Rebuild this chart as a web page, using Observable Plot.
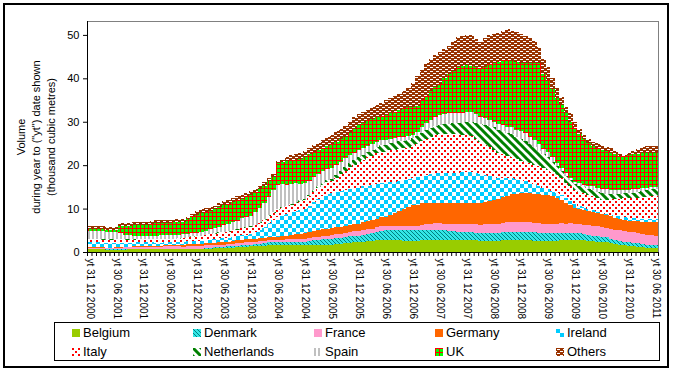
<!DOCTYPE html>
<html><head><meta charset="utf-8">
<script src="https://cdn.jsdelivr.net/npm/d3@7"></script>
<script src="https://cdn.jsdelivr.net/npm/@observablehq/plot@0.6"></script>
<style>
body{margin:0;background:#fff;}
#wrap{position:relative;width:673px;height:371px;font-family:"Liberation Sans",Arial,sans-serif;overflow:hidden;background:#fff;}
#border{position:absolute;left:3px;top:3px;width:662px;height:361px;border:2px solid #000;}
#chart{position:absolute;left:0;top:0;}
#legend{position:absolute;left:54px;top:322px;border:1px solid #000;
  display:grid;grid-template-columns:repeat(5,121px);grid-auto-rows:19px;padding-left:17px;box-sizing:border-box;width:606px;height:39px;}
.item{display:flex;align-items:center;font-size:13px;white-space:nowrap;color:#000;}
.item svg{margin-right:3px;flex:none;}
</style></head>
<body>
<svg width="0" height="0" style="position:absolute">
<defs>
<pattern id="pDen" patternUnits="userSpaceOnUse" width="4" height="4">
  <rect width="4" height="4" fill="#33e6e6"/>
  <path d="M-1,-1 L5,5 M-1,3 L1,5 M3,-1 L5,1" stroke="#008080" stroke-width="1"/>
</pattern>
<pattern id="pIre" patternUnits="userSpaceOnUse" width="8" height="8">
  <rect width="8" height="8" fill="#fff"/>
  <rect width="4" height="4" fill="#00ccff"/>
  <rect x="4" y="4" width="4" height="4" fill="#00ccff"/>
</pattern>
<pattern id="pIta" patternUnits="userSpaceOnUse" width="6" height="6">
  <rect width="6" height="6" fill="#fff"/>
  <rect width="2" height="2" fill="#ff0000"/>
  <rect x="3" y="3" width="2" height="2" fill="#ff0000"/>
</pattern>
<pattern id="pNL" patternUnits="userSpaceOnUse" width="8" height="8">
  <rect width="8" height="8" fill="#fff"/>
  <path d="M-2,-2 L10,10 M-2,6 L2,10 M6,-2 L10,2" stroke="#008000" stroke-width="3"/>
</pattern>
<pattern id="pSpa" patternUnits="userSpaceOnUse" width="4" height="4">
  <rect width="4" height="4" fill="#fff"/>
  <rect width="2" height="4" fill="#c0c0c0"/>
</pattern>
<pattern id="pUK" patternUnits="userSpaceOnUse" width="4" height="4">
  <rect width="4" height="4" fill="#00ff00"/>
  <rect width="4" height="1" fill="#ff0000"/>
  <rect width="1" height="4" fill="#ff0000"/>
</pattern>
<pattern id="pOth" patternUnits="userSpaceOnUse" width="6" height="4">
  <rect width="6" height="4" fill="#993300"/>
  <rect x="1" y="1" width="3" height="1" fill="#fff"/>
  <rect x="4" y="3" width="2" height="1" fill="#fff"/>
  <rect x="0" y="3" width="1" height="1" fill="#fff"/>
</pattern>
</defs></svg>
<div id="wrap"><div id="border"></div><div id="chart"></div><div id="legend"></div></div>
<script>
const series = ["Belgium","Denmark","France","Germany","Ireland","Italy","Netherlands","Spain","UK","Others"];
const seriesFills = ["#99cc00","url(#pDen)","#ff99cc","#ff6600","url(#pIre)","url(#pIta)","url(#pNL)","url(#pSpa)","url(#pUK)","url(#pOth)"];

const xLabels = ["yt 31 12 2000","yt 30 06 2001","yt 31 12 2001","yt 30 06 2002","yt 31 12 2002","yt 30 06 2003",
  "yt 31 12 2003","yt 30 06 2004","yt 31 12 2004","yt 30 06 2005","yt 31 12 2005","yt 30 06 2006",
  "yt 31 12 2006","yt 30 06 2007","yt 31 12 2007","yt 30 06 2008","yt 31 12 2008","yt 30 06 2009",
  "yt 31 12 2009","yt 30 06 2010","yt 31 12 2010","yt 30 06 2011"];
const yTicks = [0,10,20,30,40,50];
const yTitle = ["Volume","during year to (\"yt\") date shown","(thousand cubic metres)"];

// monthly values (thousand m3), Dec 2000 .. Jun 2011
const belgium = [
0.7,0.7,0.7,0.6,0.5,0.4, 0.4,0.4,0.5,0.6,0.6,0.6, 0.6,0.6,0.6,0.6,0.6,0.6, 0.6,0.6,0.6,0.6,0.7,0.7,
0.7,0.7,0.8,0.8,0.9,0.9, 0.9,1.0,1.0,1.1,1.2,1.2, 1.3,1.3,1.4,1.4,1.5,1.5, 1.5,1.5,1.5,1.5,1.5,1.5,
1.5,1.5,1.6,1.6,1.6,1.7, 1.7,1.8,1.9,2.0,2.1,2.2, 2.3,2.4,2.5,2.6,2.7,2.8, 2.8,2.8,2.7,2.7,2.6,2.6,
2.6,2.6,2.7,2.7,2.8,2.8, 2.8,2.8,2.8,2.8,2.8,2.8, 2.8,2.7,2.7,2.6,2.6,2.6, 2.6,2.6,2.7,2.7,2.8,2.8,
2.8,2.8,2.7,2.6,2.6,2.5, 2.5,2.5,2.6,2.7,2.7,2.8, 2.8,2.8,2.7,2.6,2.5,2.4, 2.3,2.2,2.0,1.8,1.6,1.5,
1.4,1.3,1.2,1.1,1.0,1.0, 0.9];
const denmark = [
0,0,0,0,0.1,0.2, 0.3,0.3,0.2,0,0,0, 0,0,0,0,0,0.05, 0.05,0.05,0.05,0.05,0.1,0.1,
0.1,0.1,0.15,0.2,0.2,0.25, 0.3,0.3,0.3,0.35,0.35,0.4, 0.4,0.5,0.5,0.6,0.7,0.7, 0.8,0.8,0.8,0.8,0.9,0.9,
0.9,1.0,1.1,1.2,1.3,1.3, 1.4,1.4,1.4,1.5,1.5,1.5, 1.5,1.6,1.7,1.8,2.0,2.1, 2.2,2.3,2.3,2.4,2.4,2.4,
2.4,2.4,2.4,2.4,2.3,2.3, 2.3,2.2,2.1,2.0,1.9,1.9, 1.8,1.8,1.7,1.7,1.7,1.7, 1.7,1.7,1.8,1.8,1.9,1.9,
1.9,1.9,1.9,1.9,1.8,1.8, 1.8,1.8,1.7,1.7,1.6,1.6, 1.5,1.5,1.4,1.4,1.3,1.3, 1.2,1.2,1.1,1.0,1.0,0.9,
0.8,0.8,0.8,0.7,0.7,0.7, 0.7];
const france = [
0.3,0.3,0.3,0.3,0.3,0.3, 0.3,0.3,0.4,0.5,0.5,0.6, 0.6,0.6,0.6,0.6,0.65,0.65, 0.65,0.65,0.65,0.6,0.6,0.6,
0.6,0.6,0.55,0.55,0.5,0.5, 0.5,0.5,0.55,0.55,0.6,0.6, 0.6,0.6,0.55,0.55,0.5,0.5, 0.5,0.55,0.6,0.6,0.65,0.7,
0.7,0.7,0.75,0.75,0.8,0.8, 0.8,0.85,0.9,0.95,1.0,1.05, 1.1,1.1,1.1,1.0,1.0,1.0, 1.0,1.0,1.0,0.95,0.95,0.9,
1.0,1.1,1.2,1.3,1.4,1.5, 1.5,1.5,1.6,1.6,1.7,1.7, 1.8,1.9,2.0,2.0,2.1,2.1, 2.2,2.2,2.2,2.3,2.3,2.3,
2.3,2.3,2.3,2.2,2.2,2.2, 2.2,2.2,2.2,2.2,2.2,2.2, 2.2,2.2,2.2,2.2,2.2,2.2, 2.2,2.2,2.3,2.3,2.4,2.4,
2.4,2.4,2.3,2.3,2.2,2.2, 2.1];
const germany = [
0.2,0.2,0.2,0.15,0.1,0.1, 0.1,0.1,0.1,0.15,0.2,0.2, 0.2,0.2,0.2,0.2,0.2,0.2, 0.2,0.2,0.3,0.3,0.4,0.4,
0.5,0.5,0.5,0.55,0.55,0.6, 0.6,0.6,0.65,0.65,0.7,0.7, 0.7,0.7,0.7,0.7,0.7,0.7, 0.7,0.8,0.9,1.0,1.0,1.1,
1.2,1.3,1.4,1.5,1.5,1.6, 1.6,1.6,1.6,1.6,1.6,1.6, 1.6,1.7,1.8,1.9,2.0,2.1, 2.1,2.5,3.0,3.5,4.0,4.4,
4.8,4.8,4.9,4.9,4.9,4.8, 4.8,4.8,4.8,4.8,4.8,4.8, 4.8,4.9,5.0,5.1,5.2,5.4, 5.5,5.7,5.9,6.1,6.3,6.4,
6.5,6.6,6.7,6.7,6.7,6.7, 6.6,6.3,5.9,5.4,4.9,4.3, 3.7,3.5,3.4,3.3,3.2,3.1, 3.0,2.9,2.8,2.7,2.7,2.6,
2.6,2.7,2.8,2.9,3.0,3.1, 3.2];
const ireland = [
1.0,1.0,1.0,1.0,1.0,1.0, 1.0,1.0,0.9,0.9,0.8,0.8, 0.8,0.8,0.8,0.7,0.7,0.7, 0.7,0.7,0.7,0.7,0.7,0.7,
0.7,0.7,0.8,0.8,0.8,0.9, 0.9,0.9,1.0,1.0,1.1,1.1, 1.2,1.5,2.0,2.6,3.3,4.0, 4.6,4.8,5.0,5.2,5.4,5.5,
5.7,6.1,6.6,7.1,7.6,8.0, 8.1,8.2,8.3,8.3,8.3,8.3, 8.3,8.3,8.2,8.1,8.0,7.9, 7.7,7.5,7.2,6.9,6.6,6.4,
6.2,6.3,6.4,6.5,6.6,6.7, 6.7,6.8,6.9,7.0,7.1,7.2, 7.3,7.2,6.9,6.5,6.1,5.7, 5.3,4.9,4.5,4.1,3.7,3.4,
3.1,2.8,2.5,2.2,1.9,1.6, 1.4,1.3,1.2,1.1,1.0,0.9, 0.8,0.7,0.6,0.5,0.5,0.4, 0.3,0.3,0.4,0.5,0.5,0.6,
0.6,0.6,0.6,0.7,0.7,0.7, 0.7];
const italy = [
0.8,0.8,0.8,0.8,0.8,0.8, 0.8,0.8,0.7,0.7,0.7,0.7, 0.7,0.7,0.7,0.8,0.8,0.8, 0.8,0.8,0.8,0.9,0.9,1.0,
1.0,1.1,1.1,1.2,1.3,1.3, 1.4,1.4,1.5,1.5,1.5,1.6, 1.6,1.6,1.6,1.6,1.6,1.6, 1.6,1.7,1.7,1.8,1.9,1.9,
2.0,2.2,2.4,2.6,2.7,2.7, 2.7,3.2,3.8,4.4,5.0,5.5, 6.0,6.2,6.5,6.8,7.0,7.2, 7.3,7.3,7.3,7.3,7.3,7.3,
7.3,7.6,7.9,8.2,8.5,8.8, 9.1,9.1,9.0,8.9,8.8,8.6, 8.5,8.2,7.8,7.4,7.0,6.6, 6.2,5.8,5.5,5.2,4.9,4.6,
4.4,4.3,4.3,4.4,4.5,4.5, 4.5,4.3,4.1,3.9,3.6,3.4, 3.3,3.2,3.2,3.1,3.1,3.0, 3.0,3.2,3.5,3.8,4.1,4.4,
4.6,4.7,4.8,5.0,5.1,5.2, 5.3];
const netherlands = [
0.1,0.1,0.1,0.1,0.1,0.1, 0.1,0.1,0.1,0.1,0.1,0.1, 0.1,0.1,0.1,0.1,0.1,0.1, 0.1,0.1,0.1,0.1,0.1,0.1,
0.1,0.1,0.1,0.1,0.1,0.1, 0.1,0.1,0.1,0.1,0.1,0.1, 0.1,0.1,0.1,0.15,0.15,0.2, 0.2,0.2,0.2,0.25,0.25,0.3,
0.3,0.3,0.35,0.4,0.45,0.5, 0.5,0.6,0.7,0.8,0.9,0.95, 1.0,1.1,1.2,1.3,1.4,1.5, 1.6,1.7,1.7,1.8,1.8,1.9,
1.9,1.9,2.0,2.0,2.0,2.1, 2.1,2.2,2.3,2.5,2.7,2.8, 3.0,3.3,3.7,4.1,4.5,4.9, 5.2,5.3,5.3,5.2,5.2,5.1,
5.0,4.8,4.5,4.1,3.6,3.2, 2.8,2.4,2.0,1.7,1.5,1.4, 1.4,1.4,1.4,1.5,1.5,1.5, 1.5,1.4,1.3,1.2,1.1,1.1,
1.1,1.2,1.3,1.4,1.5,1.5, 1.6];
const spain = [
1.8,1.8,1.8,1.8,1.7,1.7, 1.7,1.4,1.0,0.9,0.8,0.8, 0.8,0.8,0.8,0.8,0.8,0.8, 0.8,0.8,0.8,0.8,0.7,0.7,
0.7,0.8,0.9,1.0,1.2,1.3, 1.5,1.6,1.8,2.0,2.2,2.3, 2.5,2.8,3.2,3.7,4.3,5.0, 5.5,5.2,4.8,4.5,4.2,3.8,
3.5,3.3,3.1,2.9,2.7,2.6, 2.5,2.4,2.2,2.1,1.9,1.8, 1.7,1.6,1.5,1.4,1.3,1.2, 1.1,1.0,1.0,0.9,0.9,0.8,
0.8,1.0,1.3,1.6,1.9,2.1, 2.2,2.3,2.4,2.4,2.3,2.3, 2.3,2.2,2.0,1.8,1.6,1.4, 1.3,1.3,1.4,1.5,1.6,1.7,
1.8,1.8,1.7,1.6,1.5,1.3, 1.2,1.1,0.9,0.7,0.6,0.5, 0.4,0.5,0.6,0.7,0.8,0.9, 1.0,1.0,0.9,0.9,0.8,0.8,
0.8,0.7,0.7,0.6,0.6,0.5, 0.5];
const uk = [
0.5,0.5,0.5,0.55,0.4,0.4, 0.3,1.6,2.1,2.15,2.5,2.4, 2.4,2.5,2.7,2.9,2.85,2.8, 2.8,2.9,2.8,2.75,3.3,3.9,
4.2,4.4,4.4,4.3,4.25,4.45, 4.6,4.7,4.6,4.75,4.55,4.8, 4.8,4.7,4.45,4.0,3.5,3.0, 5.0,5.15,5.5,5.55,5.5,5.8,
6.0,6.1,5.7,5.45,5.25,5.2, 5.5,5.35,5.2,4.95,5.2,5.5, 5.8,5.8,5.8,5.8,5.7,5.6, 5.8,5.8,6.1,6.35,6.65,6.7,
6.5,6.0,6.2,6.4,6.6,6.9, 7.3,8.3,9.1,9.8,10.4,10.7, 10.7,10.6,10.7,11.1,11.8,12.8, 13.5,14.3,14.9,15.3,15.3,15.6,
15.8,16.3,17.0,17.9,18.7,17.2, 16.5,15.6,14.9,14.5,13.9,12.9, 12.4,11.4,10.5,9.7,9.3,9.2, 9.1,8.9,8.5,8.3,8.0,7.8,
8.0,8.1,8.1,8.0,8.0,7.9, 7.8];
const others = [
0.6,0.6,0.6,0.7,0.7,0.7, 0.7,0.6,0.6,0.6,0.6,0.6, 0.6,0.6,0.7,0.7,0.7,0.7, 0.7,0.7,0.7,0.7,0.6,0.6,
0.8,0.8,0.8,0.8,0.8,0.9, 1.0,0.9,0.9,0.8,0.8,0.9, 0.9,0.8,0.8,0.8,0.8,0.7, 0.5,0.6,0.8,1.1,1.3,1.4,
1.5,1.5,1.7,1.7,1.9,2.1, 2.2,2.4,2.4,2.4,2.5,2.6, 2.5,2.5,2.5,2.6,2.7,2.9, 3.4,3.6,3.7,3.7,3.8,4.4,
5.4,6.8,7.0,7.5,7.5,7.3, 7.2,6.8,6.5,6.7,7.0,7.0, 7.0,7.2,6.5,6.1,6.6,6.8, 6.7,6.7,6.8,7.1,7.0,6.8,
6.6,6.2,5.6,4.9,3.8,3.5, 3.0,2.5,2.3,1.9,1.5,2.0, 1.5,1.1,1.0,1.0,1.0,1.0, 1.0,0.9,1.1,0.8,0.4,0.2,
0.4,0.8,1.2,1.4,1.5,1.6, 1.6];

const seriesValues = [belgium, denmark, france, germany, ireland, italy, netherlands, spain, uk, others];
const rows = series.flatMap((s, k) => seriesValues[k].map((v, i) => ({month: i, monthEnd: i + 1, series: s, value: v})));
const monthBounds = d3.range(belgium.length + 1);
const labelRows = xLabels.map((t, k) => ({pos: k * 6 + 0.5, t}));
const font = '"Liberation Sans", Arial, sans-serif';

const chart = Plot.plot({
  width: 673, height: 320,
  marginLeft: 87, marginRight: 15, marginTop: 21, marginBottom: 68,
  style: {fontFamily: font, fontSize: "11px", color: "#000", background: "transparent"},
  x: {domain: [0, belgium.length], axis: null},
  y: {domain: [0, 53.2], axis: null},
  color: {domain: series, range: seriesFills},
  marks: [
    Plot.frame({stroke: "#808080"}),
    Plot.rectY(rows, {x1: "month", x2: "monthEnd", y: "value", fill: "series", shapeRendering: "crispEdges"}),
    Plot.ruleY([0], {stroke: "#000"}),
    Plot.ruleX([0], {stroke: "#000"}),
    Plot.ruleX(monthBounds, {x: d => d, y1: 0, y2: -0.92, stroke: "#000"}),
    Plot.axisY({ticks: yTicks, tickSize: 4, tickPadding: 4, label: null, fontSize: 11}),
    Plot.text(labelRows, {x: "pos", frameAnchor: "bottom", text: "t", rotate: 90, textAnchor: "start", lineAnchor: "middle", dy: 6, fontSize: 10, fill: "#000"}),
    Plot.text([yTitle.join("\n")], {frameAnchor: "left", dx: -52, rotate: -90, text: d => d, textAnchor: "middle", lineAnchor: "middle", lineHeight: 1.36, fontSize: 11, fill: "#000"})
  ]
});
document.getElementById("chart").appendChild(chart);

const legend = d3.select("#legend");
series.forEach((s, k) => {
  const it = legend.append("div").attr("class", "item");
  const sw = it.append("svg").attr("width", 8).attr("height", 8);
  sw.append("rect").attr("width", 8).attr("height", 8).attr("fill", seriesFills[k]);
  it.append("span").text(s);
});
</script>
</body></html>
